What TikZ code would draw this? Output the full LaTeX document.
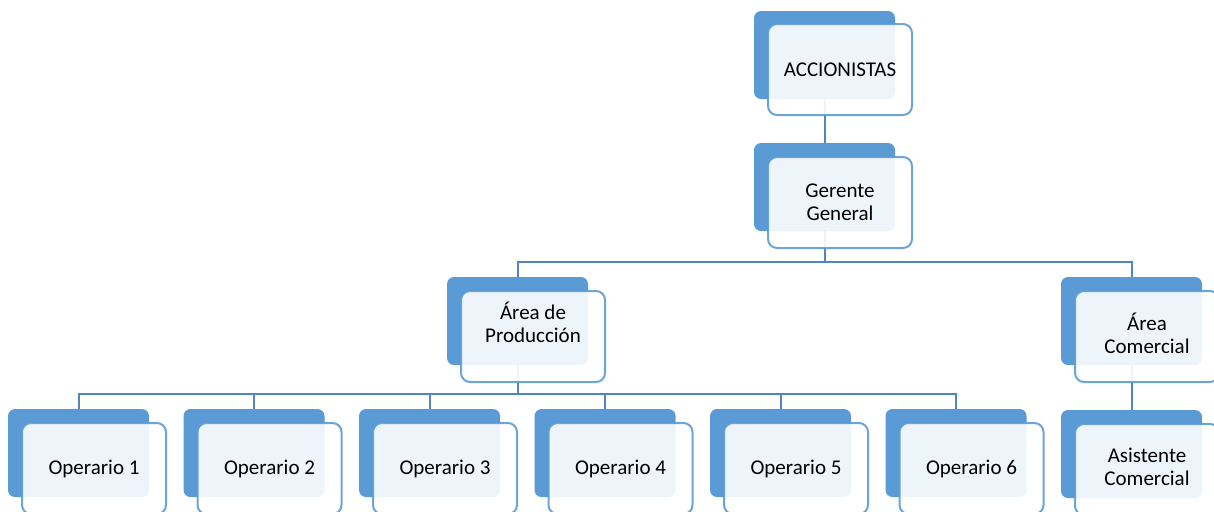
\documentclass[tikz,border=0pt]{standalone}
\usepackage{fontspec}
\setmainfont{Carlito}
\definecolor{accent}{HTML}{5B9BD5}
\definecolor{connc}{HTML}{4F85C2}
\begin{document}
\begin{tikzpicture}[x=0.5pt,y=-0.5pt,
  back/.style={fill=accent, rounded corners=3.5pt, minimum width=70.5pt, minimum height=44pt, anchor=north west, inner sep=0pt, outer sep=0pt},
  front/.style={fill=white, fill opacity=0.9, text opacity=1, draw=accent, draw opacity=0.9, line width=1pt, rounded corners=4.5pt, minimum width=72pt, minimum height=45.5pt, anchor=north west, align=center, font=\fontsize{10.5}{11.5}\selectfont, inner sep=0pt, outer sep=0pt},
  conn/.style={draw=connc, line width=1pt}]
\useasboundingbox (0,0) rectangle (1214,511);
\clip (0,0) rectangle (1214,511);
% back boxes
\node[back] (accB) at (754,11) {};
\node[back] (gerB) at (754,143) {};
\node[back] (prodB) at (447,277) {};
\node[back] (comB) at (1061,277) {};
\node[back] (asisB) at (1061,410) {};
\node[back] (op1B) at (8,409) {};
\node[back] (op2B) at (183.5,409) {};
\node[back] (op3B) at (359,409) {};
\node[back] (op4B) at (534.5,409) {};
\node[back] (op5B) at (710,409) {};
\node[back] (op6B) at (885.5,409) {};
% connectors
\coordinate (busG) at (824.5,262);
\coordinate (busP) at (517.5,394);
\draw[conn] (accB.south) -- (gerB.north);
\draw[conn] (gerB.south) -- (busG);
\draw[conn] (prodB.north) |- (busG) -| (comB.north);
\draw[conn] (comB.south) -- (asisB.north);
\draw[conn] (prodB.south) -- (busP);
\foreach \i in {1,...,6} { \draw[conn] (busP) -| (op\i B.north); }
% front boxes
\node[front] (accF) at (768,24) {ACCIONISTAS};
\node[front] (gerF) at (768,157) {Gerente\\General};
\node[front, text depth=14pt] (prodF) at (461,291) {Área de\\Producción};
\node[front, text depth=3pt] (comF) at (1075,291) {Área\\Comercial};
\node[front, text depth=2.5pt] (asisF) at (1075,424) {Asistente\\Comercial};
\node[front] (op1F) at (22,423) {Operario 1};
\node[front] (op2F) at (197.5,423) {Operario 2};
\node[front] (op3F) at (373,423) {Operario 3};
\node[front] (op4F) at (548.5,423) {Operario 4};
\node[front] (op5F) at (724,423) {Operario 5};
\node[front] (op6F) at (899.5,423) {Operario 6};
\end{tikzpicture}
\end{document}
